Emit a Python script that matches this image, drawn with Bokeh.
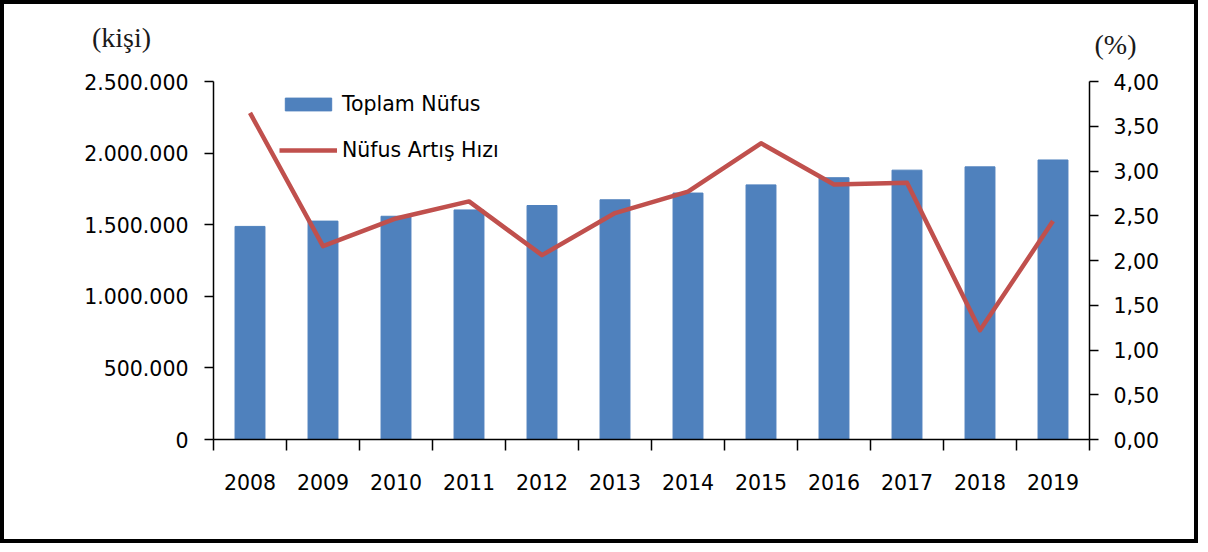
from bokeh.plotting import figure
from bokeh.models import Range1d, LinearAxis, FixedTicker, Label, Legend, LegendItem
from bokeh.embed import file_html
from bokeh.resources import INLINE

years = ["2008", "2009", "2010", "2011", "2012", "2013", "2014", "2015", "2016", "2017", "2018", "2019"]
population = [1488000, 1525000, 1559000, 1603000, 1634000, 1674000, 1721000, 1778000, 1828000, 1881000, 1904000, 1952000]
growth_rate = [3.65, 2.16, 2.47, 2.66, 2.06, 2.53, 2.77, 3.31, 2.85, 2.87, 1.22, 2.44]
left_ticks = [0, 500000, 1000000, 1500000, 2000000, 2500000]
left_labels = ["0", "500.000", "1.000.000", "1.500.000", "2.000.000", "2.500.000"]
right_ticks = [0, 0.5, 1.0, 1.5, 2.0, 2.5, 3.0, 3.5, 4.0]
right_labels = ["0,00", "0,50", "1,00", "1,50", "2,00", "2,50", "3,00", "3,50", "4,00"]

centers = [i + 0.5 for i in range(len(years))]
bounds = list(range(len(years) + 1))

FONT = "DejaVu Sans"
FS = "20.5px"

p = figure(width=1198, height=543, output_backend="svg", toolbar_location=None,
           x_range=Range1d(0, len(years)), y_range=Range1d(0, 2500000),
           min_border_left=209, min_border_right=113, min_border_top=77, min_border_bottom=108,
           x_axis_type=None, y_axis_type=None)
p.styles = {"border": "4px solid black"}
p.outline_line_color = None
p.extra_y_ranges = {"pct": Range1d(0, 4)}

bars = p.vbar(x=centers, top=population, width=0.41, color="#4F81BD")
line = p.line(x=centers, y=growth_rate, y_range_name="pct", line_width=4.5, color="#C0504D", line_join="round")

def style_axis(ax):
    ax.axis_line_color = "black"
    ax.axis_line_width = 1.5
    ax.major_tick_line_color = "black"
    ax.major_tick_line_width = 1.5
    ax.minor_tick_line_color = "black"
    ax.minor_tick_line_width = 1.5
    ax.major_label_text_font = FONT
    ax.major_label_text_font_size = FS
    ax.major_label_text_color = "black"

xaxis = LinearAxis(ticker=FixedTicker(ticks=centers, minor_ticks=bounds))
style_axis(xaxis)
xaxis.major_tick_out = 0
xaxis.major_tick_in = 0
xaxis.minor_tick_out = 11
xaxis.minor_tick_in = 0
xaxis.major_label_standoff = 23
xaxis.major_label_overrides = {c: y for c, y in zip(centers, years)}
p.add_layout(xaxis, "below")

laxis = LinearAxis(ticker=FixedTicker(ticks=left_ticks))
style_axis(laxis)
laxis.major_tick_out = 9
laxis.major_tick_in = 0
laxis.minor_tick_out = 0
laxis.major_label_standoff = 16
laxis.major_label_overrides = {t: l for t, l in zip(left_ticks, left_labels)}
p.add_layout(laxis, "left")

raxis = LinearAxis(y_range_name="pct", ticker=FixedTicker(ticks=right_ticks))
style_axis(raxis)
raxis.major_tick_out = 9
raxis.major_tick_in = 0
raxis.minor_tick_out = 0
raxis.major_label_standoff = 15
raxis.major_label_overrides = {t: l for t, l in zip(right_ticks, right_labels)}
p.add_layout(raxis, "right")

p.add_layout(Label(x=-92, y=44, x_units="screen", y_units="screen", text="(kişi)",
                   text_font="Liberation Serif", text_font_size="28px", text_color="#1a1a1a",
                   text_align="center", text_baseline="middle"), "above")
p.add_layout(Label(x=902, y=6, x_units="screen", y_units="screen", text="(%)",
                   text_font="Liberation Serif", text_font_size="28px", text_color="#1a1a1a",
                   text_align="center", text_baseline="middle"), "above")

legend = Legend(items=[LegendItem(label="Toplam Nüfus", renderers=[bars]),
                       LegendItem(label="Nüfus Artış Hızı", renderers=[line])],
                location=(66, 277), glyph_width=58, glyph_height=16, label_height=16,
                spacing=22, padding=0, margin=0, label_standoff=5,
                label_text_font=FONT, label_text_font_size=FS, label_text_color="black",
                border_line_color=None, background_fill_alpha=0)
p.add_layout(legend)

open("out.html", "w").write(file_html(p, INLINE))
